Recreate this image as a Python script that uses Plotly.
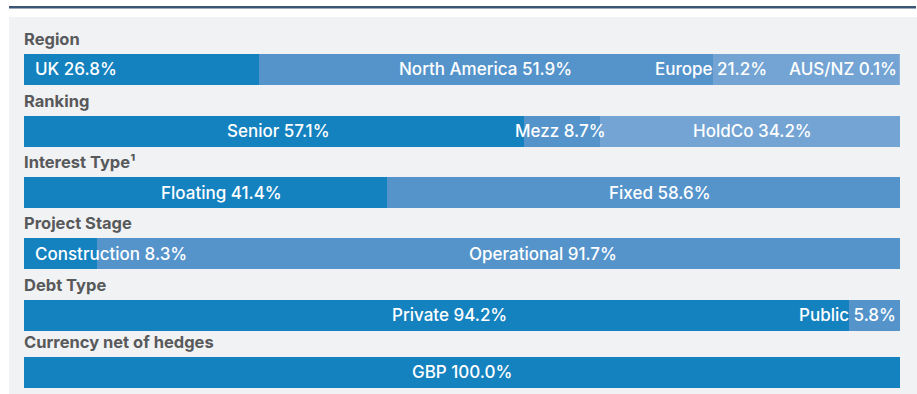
import plotly.graph_objects as go

# ---- data ---------------------------------------------------------------
row_titles = ["Region", "Ranking", "Interest Type¹", "Project Stage",
              "Debt Type", "Currency net of hedges"]

region_names = ["UK", "North America", "Europe", "AUS/NZ"]
region_pct = [26.8, 51.9, 21.2, 0.1]

ranking_names = ["Senior", "Mezz", "HoldCo"]
ranking_pct = [57.1, 8.7, 34.2]

interest_names = ["Floating", "Fixed"]
interest_pct = [41.4, 58.6]

stage_names = ["Construction", "Operational"]
stage_pct = [8.3, 91.7]

debt_names = ["Private", "Public"]
debt_pct = [94.2, 5.8]

currency_names = ["GBP"]
currency_pct = [100.0]

# ---- layout helpers -----------------------------------------------------
W, H = 917, 394
X0_PX, X1_PX = 24, 900                      # where 0% and 100% fall
px_per_pct = (X1_PX - X0_PX) / 100.0
x_range = [-X0_PX / px_per_pct, (W - X0_PX) / px_per_pct]

row_centres = [69.4, 131.4, 192.7, 253.5, 315.4, 372.2]   # y axis runs top-down
bar_thickness = 30.7

shades = ["#1582c0", "#5594cb", "#73a4d4", "#8cb2dc"]

# label anchor (percent along the bar) and alignment for each segment
label_pos = [
    [(1.0, "left"), (52.7, "center"), (78.4, "center"), (99.9, "right")],
    [(29.0, "center"), (61.3, "center"), (83.2, "center")],
    [(22.5, "center"), (72.6, "center")],
    [(9.9, "center"), (59.2, "center")],
    [(48.6, "center"), (99.8, "right")],
    [(50.0, "center")],
]

rows = [
    (region_names, region_pct),
    (ranking_names, ranking_pct),
    (interest_names, interest_pct),
    (stage_names, stage_pct),
    (debt_names, debt_pct),
    (currency_names, currency_pct),
]

LABEL_FONT = dict(family="Inter, Liberation Sans, Arial", size=17,
                  weight=500, color="white")
TITLE_FONT = dict(family="Inter, Liberation Sans, Arial", size=16.5,
                  weight="bold", color="#58595b")

fig = go.Figure()
annotations = []

for r, (names, pcts) in enumerate(rows):
    yc = row_centres[r]
    start = 0.0
    for i, (name, pct) in enumerate(zip(names, pcts)):
        fig.add_trace(go.Bar(
            x=[pct], y=[yc], base=[start], orientation="h",
            width=bar_thickness, marker=dict(color=shades[i], line=dict(width=0)),
            hoverinfo="skip", showlegend=False,
        ))
        start += pct
    for (name, pct), (lx, anchor) in zip(zip(names, pcts), label_pos[r]):
        annotations.append(dict(
            x=lx, y=yc, xref="x", yref="y", text=f"{name} {pct:.1f}%",
            showarrow=False, xanchor=anchor, yanchor="middle",
            font=LABEL_FONT,
        ))
    annotations.append(dict(
        x=0, y=yc - bar_thickness / 2 - 3, xref="x", yref="y",
        text=row_titles[r], showarrow=False,
        xanchor="left", yanchor="bottom", xshift=-2, font=TITLE_FONT,
    ))

shapes = [
    # light panel behind the bars
    dict(type="rect", xref="paper", yref="paper", layer="below",
         x0=9 / W, x1=1, y0=0, y1=1 - 17 / H,
         fillcolor="#f1f2f4", line=dict(width=0)),
    # rule across the top
    dict(type="rect", xref="paper", yref="paper", layer="below",
         x0=9 / W, x1=916 / W, y0=1 - 8.6 / H, y1=1 - 6 / H,
         fillcolor="#3b5574", line=dict(width=0)),
]

fig.update_layout(
    width=W, height=H, autosize=False,
    margin=dict(l=0, r=0, t=0, b=0, pad=0),
    paper_bgcolor="white", plot_bgcolor="rgba(0,0,0,0)",
    barmode="overlay", bargap=0,
    xaxis=dict(range=x_range, visible=False, fixedrange=True),
    yaxis=dict(range=[H, 0], visible=False, fixedrange=True),
    annotations=annotations, shapes=shapes,
)

fig.write_html("out.html", config={"displayModeBar": False})
